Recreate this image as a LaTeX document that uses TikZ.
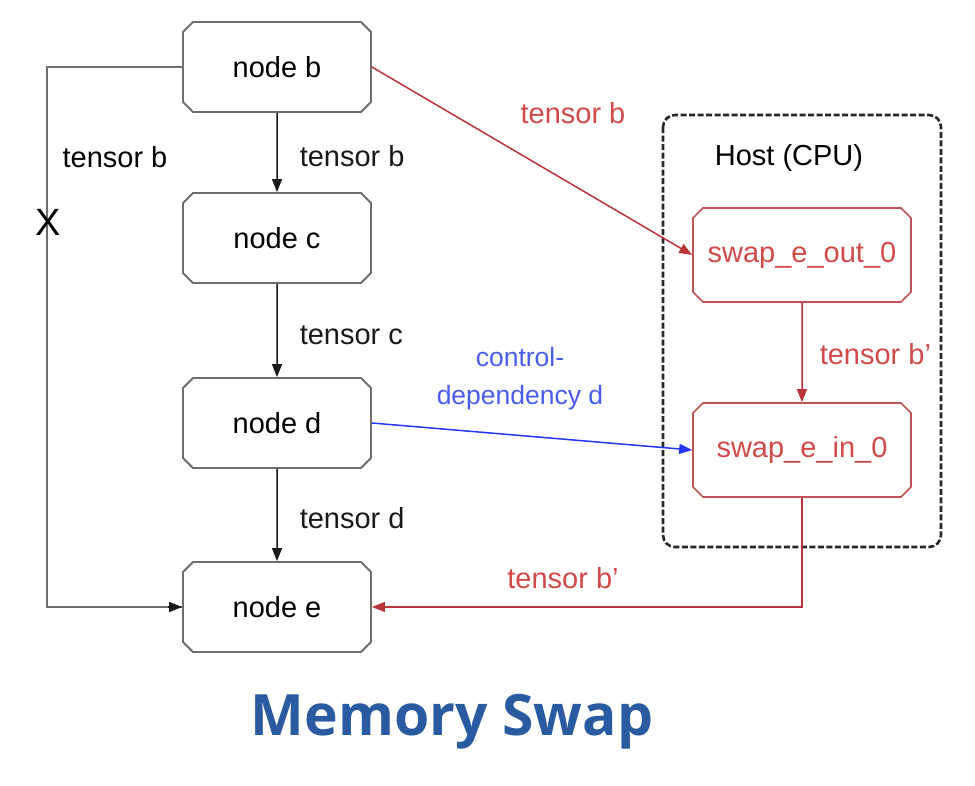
\documentclass[tikz,border=0pt]{standalone}
\usepackage{fontspec}
\setmainfont{Liberation Sans}
\newfontfamily\titlefont{Open Sans}
\usetikzlibrary{shapes.misc,arrows.meta}
\definecolor{graybox}{HTML}{6E6E6E}
\definecolor{redline}{HTML}{B8343A}
\definecolor{redtext}{HTML}{D04A4A}
\definecolor{blueline}{HTML}{2436F5}
\definecolor{bluetext}{HTML}{4A5CF0}
\definecolor{titleblue}{HTML}{2A5AA0}
\tikzset{
  opbox/.style={chamfered rectangle, chamfered rectangle xsep=5pt, chamfered rectangle ysep=5pt,
    draw=graybox, line width=1.8pt, fill=white, minimum width=188pt, minimum height=90pt,
    inner sep=0pt, font=\fontsize{29}{32}\selectfont},
  swapbox/.style={opbox, draw=redline!85, line width=1.6pt, text=redtext, minimum width=218pt, minimum height=94pt},
  lbl/.style={font=\fontsize{29}{32}\selectfont, inner sep=0pt},
  arr/.style={line width=1.5pt, -{Triangle[length=13pt,width=10pt]}},
}
\begin{document}
\begin{tikzpicture}[x=1pt,y=-1pt]
\useasboundingbox (0,0) rectangle (975,785);
% host box
\draw[line width=2.6pt, dash pattern=on 6pt off 2.5pt, rounded corners=12pt, black!85] (663,115) rectangle (941,547);
\node[lbl] (host) at (789,158) {Host (CPU)};
% nodes
\node[opbox] (b) at (277,67) {node b};
\node[opbox] (c) at (277,238) {node c};
\node[opbox] (d) at (277,423) {node d};
\node[opbox] (e) at (277,607) {node e};
\node[swapbox] (out) at (802,255) {swap\_e\_out\_0};
\node[swapbox] (in) at (802,450) {swap\_e\_in\_0};
% black arrows
\draw[arr, black!90] (b) -- (c) node[lbl, midway, right=22pt, yshift=-4pt] (lb) {tensor b};
\draw[arr, black!90] (c) -- (d) node[lbl, midway, right=22pt, yshift=-5pt] (lc) {tensor c};
\draw[arr, black!90] (d) -- (e) node[lbl, midway, right=22pt, yshift=-3pt] (ld) {tensor d};
% left bypass
\coordinate (lt) at (47,67);
\draw[graybox, line width=1.8pt] (b.west) -- (lt) |- (e.west);
\draw[arr, black!90] ([xshift=-14pt]e.west) -- (e.west);
\node[lbl] (lx) at (115,157) {tensor b};
\node[font=\fontsize{38}{40}\selectfont, inner sep=0pt] (x) at (48,222) {X};
% red arrows
\draw[arr, redline] (b.east) -- (out.west);
\node[lbl, text=redtext] (lr1) at (573,113) {tensor b};
\draw[arr, redline] (out) -- (in) node[lbl, text=redtext, midway, right=17pt, yshift=-2pt] (lr2) {tensor b'};
\draw[arr, redline] (in.south) |- (e.east);
\node[lbl, text=redtext] (lr3) at (563,578) {tensor b'};
% blue
\draw[arr, blueline] (d.east) -- (in.west);
\node[lbl, text=bluetext, align=center, font=\fontsize{26.5}{38}\selectfont] (lctrl) at (520,379) {control-\\dependency d};
% title
\node[font=\titlefont\bfseries\fontsize{57}{62}\selectfont, text=titleblue, inner sep=0pt] (title) at (452,722) {Memory Swap};
\end{tikzpicture}
\end{document}
